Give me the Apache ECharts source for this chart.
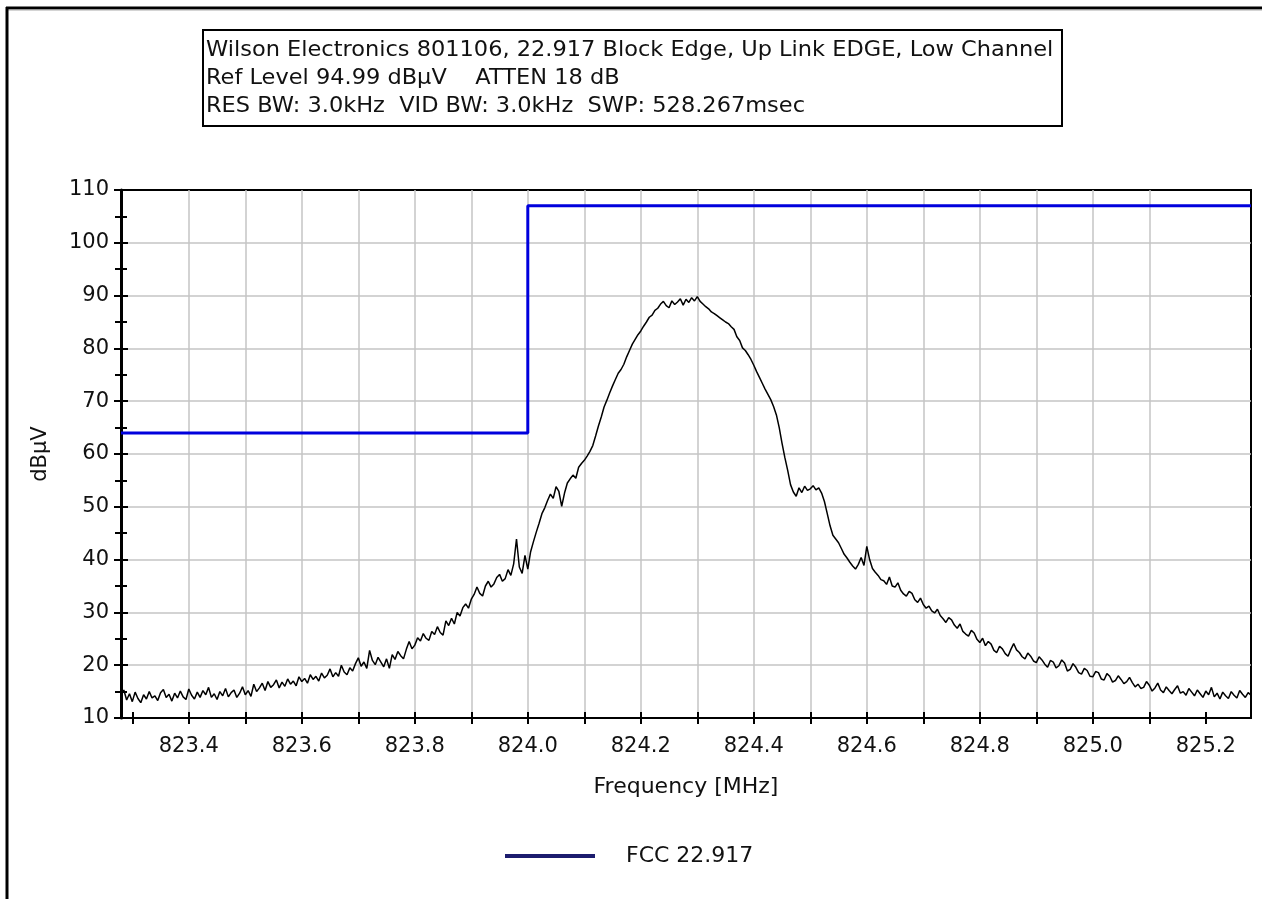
<!DOCTYPE html>
<html>
<head>
<meta charset="utf-8">
<script src="https://cdn.jsdelivr.net/npm/echarts@6/dist/echarts.min.js"></script>
<style>
  html, body { margin: 0; padding: 0; background: #fff; }
  #chart { width: 1268px; height: 899px; }
</style>
</head>
<body>
<div id="chart"></div>
<script>
// ---- data ----
const titleLines = [
  'Wilson Electronics 801106, 22.917 Block Edge, Up Link EDGE, Low Channel',
  'Ref Level 94.99 dB\u00B5V    ATTEN 18 dB',
  'RES BW: 3.0kHz  VID BW: 3.0kHz  SWP: 528.267msec'
];
const xAxisTitle = 'Frequency [MHz]';
const yAxisTitle = 'dB\u00B5V';
const limitName = 'FCC 22.917';

const freqMin = 823.28;
const freqMax = 825.28;
const levelMin = 10;
const levelMax = 110;

// sweep: start frequency and step (MHz) of the measured trace
const sweepStartMHz = 823.28;
const sweepStepMHz = 0.005;
// measured level (dBuV) at each sweep point (rows of 0.05 MHz)
const levelDbuV = [
  14.2, 15.3, 13.4, 14.6, 13.1, 14.9, 13.7, 12.9, 14.4, 13.6,
  15.0, 13.8, 14.2, 13.3, 14.8, 15.4, 13.9, 14.5, 13.2, 14.7,
  13.8, 15.1, 14.0, 13.5, 15.5, 14.3, 13.6, 14.9, 13.9, 15.2,
  14.4, 15.8, 13.9, 14.6, 13.5, 15.0, 14.2, 15.6, 14.0, 14.8,
  15.3, 13.9, 14.7, 15.9, 14.4, 15.2, 14.1, 16.4, 15.0, 15.7,
  16.6, 15.2, 16.9, 15.8, 16.3, 17.2, 15.7, 16.8, 16.0, 17.4,
  16.4, 17.0, 16.1, 17.8, 16.9, 17.5, 16.6, 18.2, 17.3, 17.9,
  17.0, 18.5, 17.6, 18.1, 19.3, 17.8, 18.6, 17.9, 20.0, 18.7,
  18.2, 19.5, 18.9, 20.3, 21.4, 19.8, 20.6, 19.4, 22.8, 20.9,
  20.1, 21.5, 20.6, 19.7, 21.2, 19.4, 22.0, 21.1, 22.6, 21.8,
  21.2, 23.0, 24.5, 23.1, 23.8, 25.2, 24.6, 26.0, 25.1, 24.7,
  26.4, 25.8, 27.3, 26.2, 25.7, 28.4, 27.5, 28.9, 27.8, 30.0,
  29.3, 30.9, 31.6, 30.8, 32.5, 33.4, 34.8, 33.6, 33.1, 35.0,
  35.9, 34.8, 35.4, 36.6, 37.2, 35.9, 36.4, 38.1, 37.0, 39.2,
  43.9, 38.6, 37.4, 40.8, 38.2, 41.5, 43.4, 45.2, 46.9, 48.7,
  49.8, 51.2, 52.4, 51.6, 53.8, 52.9, 50.1, 52.6, 54.5, 55.3,
  56.0, 55.4, 57.5, 58.2, 58.8, 59.6, 60.5, 61.6, 63.4, 65.3,
  67.0, 68.9, 70.2, 71.6, 72.9, 74.1, 75.3, 76.0, 77.0, 78.4,
  79.6, 80.8, 81.7, 82.6, 83.3, 84.2, 85.0, 85.9, 86.3, 87.2,
  87.6, 88.4, 88.9, 88.1, 87.7, 89.0, 88.3, 88.8, 89.4, 88.2,
  89.3, 88.7, 89.6, 89.0, 89.8, 88.9, 88.4, 87.9, 87.5, 86.9,
  86.6, 86.2, 85.8, 85.4, 85.0, 84.7, 84.1, 83.6, 82.2, 81.5,
  80.1, 79.6, 78.8, 77.9, 76.8, 75.6, 74.5, 73.4, 72.3, 71.3,
  70.3, 69.0, 67.4, 65.0, 62.0, 59.3, 56.9, 54.2, 52.8, 52.0,
  53.6, 52.7, 53.9, 53.1, 53.4, 54.0, 53.2, 53.6, 52.6, 51.0,
  48.7, 46.4, 44.6, 43.9, 43.2, 42.1, 41.0, 40.3, 39.5, 38.8,
  38.2, 39.1, 40.4, 38.9, 42.5, 40.0, 38.3, 37.6, 37.0, 36.2,
  36.0, 35.3, 36.7, 35.0, 34.8, 35.6, 34.2, 33.5, 33.1, 34.0,
  33.6, 32.4, 31.9, 32.7, 31.5, 30.8, 31.2, 30.3, 29.9, 30.6,
  29.4, 28.8, 28.1, 29.0, 28.6, 27.6, 27.0, 27.8, 26.4, 25.9,
  25.5, 26.6, 26.1, 24.9, 24.3, 25.1, 23.7, 24.5, 24.0, 22.8,
  22.4, 23.6, 23.1, 22.2, 21.7, 23.0, 24.1, 22.9, 22.4, 21.6,
  21.2, 22.3, 21.7, 20.8, 20.5, 21.6, 21.0, 20.2, 19.6, 20.9,
  20.6, 19.5, 19.9, 21.0, 20.4, 18.9, 19.2, 20.3, 19.6, 18.6,
  18.3, 19.4, 19.0, 17.9, 17.8, 18.8, 18.6, 17.4, 17.2, 18.4,
  17.9, 16.8, 17.1, 18.0, 17.3, 16.5, 16.9, 17.7, 16.7, 15.9,
  16.4, 15.6, 15.8, 16.9, 16.2, 15.1, 15.7, 16.6, 15.3, 14.8,
  15.9, 15.2, 14.6, 15.4, 16.1, 14.7, 15.0, 14.3, 15.6, 14.9,
  14.2, 15.3, 14.6, 13.9, 15.1, 14.4, 15.8, 14.0, 14.7, 13.6,
  14.9, 14.2, 13.7, 15.0, 14.3, 13.8, 15.2, 14.5, 13.9, 14.8,
  14.3
];

// FCC 22.917 limit line (step)
const limitFreqMHz = [823.28, 824.0, 824.0, 825.28];
const limitLevelDbuV = [64, 64, 107, 107];

// tick labels / tick positions
const xLabelValues = [823.4, 823.6, 823.8, 824.0, 824.2, 824.4, 824.6, 824.8, 825.0, 825.2];
const xTickValues = [823.3, 823.4, 823.5, 823.6, 823.7, 823.8, 823.9, 824.0, 824.1, 824.2,
                     824.3, 824.4, 824.5, 824.6, 824.7, 824.8, 824.9, 825.0, 825.1, 825.2];

// ---- build chart ----
const FONT = 'DejaVu Sans';
const traceData = levelDbuV.map((v, i) => [sweepStartMHz + i * sweepStepMHz, v]);
const limitData = limitFreqMHz.map((f, i) => [f, limitLevelDbuV[i]]);

const chart = echarts.init(document.getElementById('chart'), null, { renderer: 'canvas' });

const gridLine = { show: true, showMinLine: false, showMaxLine: false, lineStyle: { color: '#c4c4c4', width: 1.5 } };

const option = {
  backgroundColor: '#ffffff',
  animation: false,
  textStyle: { fontFamily: FONT, color: '#111' },
  grid: {
    left: 121, right: 17, top: 190, bottom: 181,
    containLabel: false,
    show: true, borderColor: '#000', borderWidth: 2, backgroundColor: 'transparent'
  },
  legend: {
    data: [{ name: limitName, itemStyle: { color: '#1c1c6e' } }],
    left: 500, top: 840,
    icon: 'rect', itemWidth: 90, itemHeight: 4,
    textStyle: { fontFamily: FONT, fontSize: 22, color: '#111', padding: [0, 0, 0, 26] }
  },
  xAxis: [
    {
      type: 'value', min: freqMin, max: freqMax, splitNumber: 10, position: 'bottom',
      axisLine: { show: true, onZero: false, lineStyle: { color: '#000', width: 2 } },
      axisTick: { show: true, customValues: xTickValues, length: 6, lineStyle: { color: '#000', width: 2 } },
      axisLabel: {
        customValues: xLabelValues, margin: 18,
        formatter: v => Number(v).toFixed(1),
        fontFamily: FONT, fontSize: 21, color: '#111'
      },
      splitLine: gridLine,
      name: xAxisTitle, nameLocation: 'middle', nameGap: 58,
      nameTextStyle: { fontFamily: FONT, fontSize: 22, color: '#111' }
    },
    {
      type: 'value', min: freqMin, max: freqMax, position: 'bottom', offset: 0,
      axisLine: { show: false },
      axisTick: { show: true, inside: true, customValues: xTickValues, length: 6, lineStyle: { color: '#000', width: 2 } },
      axisLabel: { show: false },
      splitLine: { show: false }
    }
  ],
  yAxis: [
    {
      type: 'value', min: levelMin, max: levelMax, interval: 10, position: 'left',
      axisLine: { show: true, onZero: false, lineStyle: { color: '#000', width: 3 } },
      axisTick: { show: true, length: 7, lineStyle: { color: '#000', width: 2 } },
      minorTick: { show: true, splitNumber: 2, length: 6, lineStyle: { color: '#000', width: 2 } },
      axisLabel: { margin: 12, fontFamily: FONT, fontSize: 21, color: '#111' },
      splitLine: gridLine,
      name: yAxisTitle, nameLocation: 'middle', nameGap: 70, nameRotate: 90,
      nameTextStyle: { fontFamily: FONT, fontSize: 21, color: '#111' }
    },
    {
      type: 'value', min: levelMin, max: levelMax, interval: 10, position: 'left', offset: 0,
      axisLine: { show: false },
      axisTick: { show: true, inside: true, length: 7, lineStyle: { color: '#000', width: 2 } },
      minorTick: { show: true, splitNumber: 2, length: 6, lineStyle: { color: '#000', width: 2 } },
      axisLabel: { show: false },
      splitLine: { show: false }
    }
  ],
  series: [
    {
      name: 'Trace', type: 'line', xAxisIndex: 0, yAxisIndex: 0,
      data: traceData, showSymbol: false, symbol: 'none',
      lineStyle: { color: '#000', width: 1.5 }, itemStyle: { color: '#000' },
      z: 3
    },
    {
      name: limitName, type: 'line', xAxisIndex: 0, yAxisIndex: 0,
      data: limitData, showSymbol: false, symbol: 'none',
      lineStyle: { color: '#0000dd', width: 3 }, itemStyle: { color: '#0000dd' },
      z: 4
    }
  ],
  graphic: [
    // page frame lines
    { type: 'line', shape: { x1: 6, y1: 8, x2: 1262, y2: 8 }, style: { stroke: '#000', lineWidth: 3 }, silent: true },
    { type: 'line', shape: { x1: 6, y1: 10, x2: 1262, y2: 10 }, style: { stroke: '#aaa', lineWidth: 1 }, silent: true },
    { type: 'line', shape: { x1: 7, y1: 7, x2: 7, y2: 899 }, style: { stroke: '#000', lineWidth: 3 }, silent: true },
    // header box
    { type: 'rect', shape: { x: 203, y: 30, width: 859, height: 96 }, style: { fill: '#fff', stroke: '#000', lineWidth: 2 }, silent: true },
    { type: 'text', x: 206, y: 51, style: { text: titleLines[0], font: '21px "DejaVu Sans"', fill: '#111', textVerticalAlign: 'middle', verticalAlign: 'middle' }, scaleX: 1.07, silent: true },
    { type: 'text', x: 206, y: 79, style: { text: titleLines[1], font: '21px "DejaVu Sans"', fill: '#111', textVerticalAlign: 'middle', verticalAlign: 'middle' }, scaleX: 1.07, silent: true },
    { type: 'text', x: 206, y: 107, style: { text: titleLines[2], font: '21px "DejaVu Sans"', fill: '#111', textVerticalAlign: 'middle', verticalAlign: 'middle' }, scaleX: 1.07, silent: true }
  ]
};

chart.setOption(option);
</script>
</body>
</html>
